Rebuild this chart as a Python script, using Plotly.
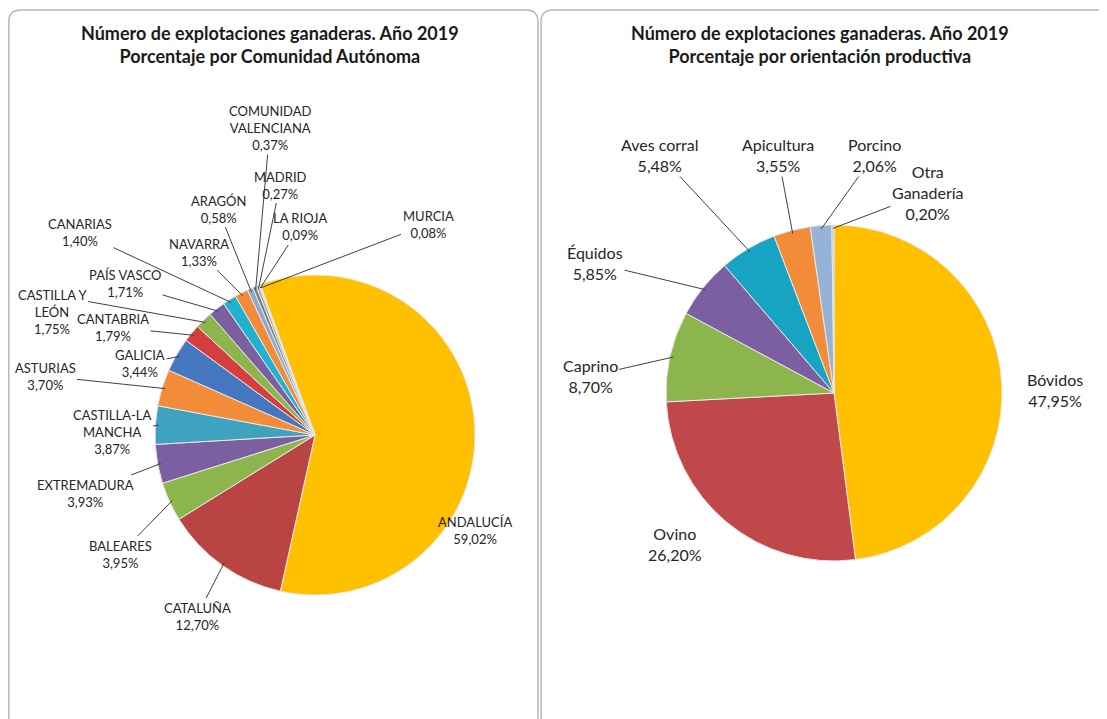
"""Explotaciones ganaderas 2019: two pie charts with leader-line labels."""

import math

import plotly.graph_objects as go

# the page adds an 8px body margin, so the figure is drawn from (8, 8)
PAGE_W, PAGE_H, OFF = 1107, 719, 8
W, H = PAGE_W - OFF, PAGE_H - OFF

# --- data -------------------------------------------------------------------
ccaa_names = [
    "ANDALUCÍA", "CATALUÑA", "BALEARES", "EXTREMADURA", "CASTILLA-LA<br>MANCHA",
    "ASTURIAS", "GALICIA", "CANTABRIA", "CASTILLA Y<br>LEÓN", "PAÍS VASCO",
    "CANARIAS", "NAVARRA", "ARAGÓN", "COMUNIDAD<br>VALENCIANA", "MADRID",
    "LA RIOJA", "MURCIA",
]
ccaa_pct = [59.02, 12.70, 3.95, 3.93, 3.87, 3.70, 3.44, 1.79, 1.75, 1.71,
            1.40, 1.33, 0.58, 0.37, 0.27, 0.09, 0.08]

orient_names = ["Bóvidos", "Ovino", "Caprino", "Équidos", "Aves corral",
                "Apicultura", "Porcino", "Otra<br>Ganadería"]
orient_pct = [47.95, 26.20, 8.70, 5.85, 5.48, 3.55, 2.06, 0.20]

# --- style ------------------------------------------------------------------
ccaa_colors = ["#FFC000", "#B94442", "#8DB54E", "#7B5FA0", "#3FA3BF", "#F28C38",
               "#4477C0", "#D43E3E", "#8DB54E", "#7B5FA0", "#20B2CF", "#F28C38",
               "#8FA9CC", "#7F7F7F", "#A6A6A6", "#595959", "#F2F2F2"]
orient_colors = ["#FFC000", "#C0474A", "#8DB54E", "#7B5FA0", "#17A3C2",
                 "#F28C38", "#95B3D7", "#BFBFBF"]

# pie geometry (page pixels): centre x, centre y, radius, start angle
LEFT = dict(cx=315, cy=435, r=160, rot=-20)
RIGHT = dict(cx=834, cy=393, r=168, rot=0)

# label block centres (page pixels); "line" = leader line drawn,
# "split" = leader line leaves from the first text line only
ccaa_label_pos = [
    (475, 530, "none"), (197, 616, "line"), (120, 554, "line"), (85, 493, "line"),
    (112, 432, "line"), (45, 376, "line"), (140, 364, "line"), (113, 327, "line"),
    (52, 312, "split"), (125, 284, "line"), (80, 232, "line"), (199, 252, "line"),
    (218, 209, "line"), (270, 128, "line"), (280, 185, "line"), (300, 227, "line"),
    (428, 224, "line"),
]
orient_label_pos = [
    (1055, 390, "none"), (675, 544, "none"), (590, 376, "line"), (595, 263, "line"),
    (660, 155, "line"), (778, 155, "line"), (874, 155, "line"), (928, 192, "line"),
]

FONT = "Lato, 'Open Sans', sans-serif"
TEXT_COLOR = "#262626"
LINE_COLOR = "#404040"


def fx(x):
    return (x - OFF) / W


def fy(y):
    return 1 - (y - OFF) / H


def domain(g):
    return dict(
        x=[fx(g["cx"] - g["r"]), fx(g["cx"] + g["r"])],
        y=[fy(g["cy"] + g["r"]), fy(g["cy"] - g["r"])],
    )


def pct(v):
    return f"{v:.2f}%".replace(".", ",")


def label_annotations(names, values, positions, g, size):
    total = sum(values)
    cum = 0
    anns = []
    font = dict(family=FONT, size=size, color=TEXT_COLOR)
    line_h = size * 1.3
    for name, v, (lx, ly, mode) in zip(names, values, positions):
        ang = math.radians(g["rot"] + 360 * (cum + v / 2) / total)
        cum += v
        hx = g["cx"] + 0.98 * g["r"] * math.sin(ang)
        hy = g["cy"] - 0.98 * g["r"] * math.cos(ang)
        text = f"{name}<br>{pct(v)}"
        if mode == "line":
            anns.append(dict(
                x=fx(hx), y=fy(hy), xref="paper", yref="paper",
                ax=lx - hx, ay=ly - hy, text=text, showarrow=True,
                arrowhead=0, arrowwidth=1, arrowcolor=LINE_COLOR, standoff=0,
                font=font,
            ))
        elif mode == "split":
            first, rest = name.split("<br>", 1)
            n_lines = text.count("<br>") + 1
            top = ly - line_h * (n_lines - 1) / 2
            anns.append(dict(
                x=fx(hx), y=fy(hy), xref="paper", yref="paper",
                ax=lx - hx, ay=top - hy, text=first, showarrow=True,
                arrowhead=0, arrowwidth=1, arrowcolor=LINE_COLOR, standoff=0,
                font=font,
            ))
            anns.append(dict(
                x=fx(lx), y=fy(top + line_h * n_lines / 2), xref="paper", yref="paper",
                xanchor="center", yanchor="middle", showarrow=False,
                text=f"{rest}<br>{pct(v)}", font=font,
            ))
        else:
            anns.append(dict(
                x=fx(lx), y=fy(ly), xref="paper", yref="paper",
                xanchor="center", yanchor="middle",
                text=text, showarrow=False, font=font,
            ))
    return anns


def panel(x0, y0, x1, y1, rad=12):
    path = (
        f"M {fx(x0)},{fy(y0 + rad)} Q {fx(x0)},{fy(y0)} {fx(x0 + rad)},{fy(y0)} "
        f"L {fx(x1 - rad)},{fy(y0)} Q {fx(x1)},{fy(y0)} {fx(x1)},{fy(y0 + rad)} "
        f"L {fx(x1)},{fy(y1 - rad)} Q {fx(x1)},{fy(y1)} {fx(x1 - rad)},{fy(y1)} "
        f"L {fx(x0 + rad)},{fy(y1)} Q {fx(x0)},{fy(y1)} {fx(x0)},{fy(y1 - rad)} Z"
    )
    return dict(type="path", xref="paper", yref="paper", path=path,
                line=dict(color="#B8B8B8", width=1.5), layer="below")


fig = go.Figure()

fig.add_trace(go.Pie(
    labels=ccaa_names, values=ccaa_pct, sort=False, direction="clockwise",
    rotation=LEFT["rot"], textinfo="none", domain=domain(LEFT),
    marker=dict(colors=ccaa_colors, line=dict(color="#E8E8E8", width=1)),
    showlegend=False,
))
fig.add_trace(go.Pie(
    labels=orient_names, values=orient_pct, sort=False, direction="clockwise",
    rotation=RIGHT["rot"], textinfo="none", domain=domain(RIGHT),
    marker=dict(colors=orient_colors, line=dict(color="#E8E8E8", width=1)),
    showlegend=False,
))

annotations = []
annotations += label_annotations(ccaa_names, ccaa_pct, ccaa_label_pos, LEFT, 13)
annotations += label_annotations(orient_names, orient_pct, orient_label_pos, RIGHT, 16)

title_font = dict(family=FONT, size=18, color="#1A1A1A")
titles = [
    (270, "<b>Número de explotaciones ganaderas. Año 2019<br>Porcentaje por Comunidad Autónoma</b>"),
    (820, "<b>Número de explotaciones ganaderas. Año 2019<br>Porcentaje por orientación productiva</b>"),
]
for tx, ttext in titles:
    annotations.append(dict(
        x=fx(tx), y=fy(45), xref="paper", yref="paper", showarrow=False,
        xanchor="center", yanchor="middle", text=ttext, font=title_font,
    ))

fig.update_layout(
    width=W, height=H,
    margin=dict(l=0, r=0, t=0, b=0),
    paper_bgcolor="white",
    annotations=annotations,
    shapes=[panel(8.8, 10, 538, 728), panel(541, 10, 1120, 728)],
)

fig.write_html("out.html")
